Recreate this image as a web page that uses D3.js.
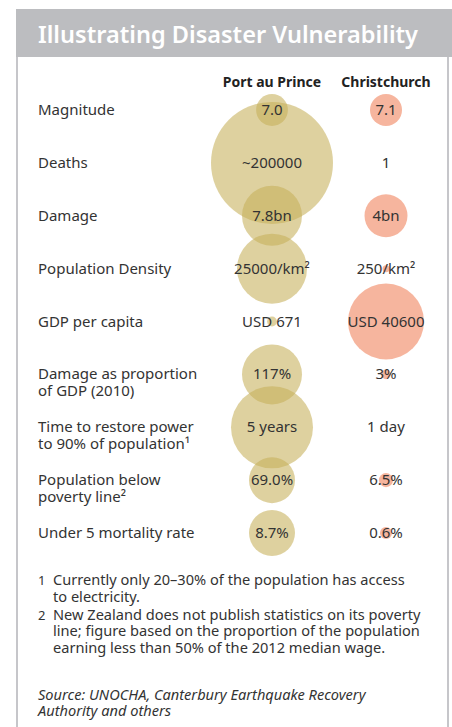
<!DOCTYPE html>
<html>
<head>
<meta charset="utf-8">
<script src="https://cdn.jsdelivr.net/npm/d3@7"></script>
<style>
  body { margin: 0; background: #fff; }
  svg text { font-family: "Noto Sans", "Open Sans", sans-serif; fill: #333; }
</style>
</head>
<body>
<svg width="452" height="727"></svg>
<script>
// Data
var metrics = ["Magnitude", "Deaths", "Damage", "Population Density", "GDP per capita",
    "Damage as proportion|of GDP (2010)", "Time to restore power|to 90% of population¹",
    "Population below|poverty line²", "Under 5 mortality rate"];
var cities = ["Port au Prince", "Christchurch"];
var portValues = [7.0, 200000, 7.8, 25000, 671, 117, 1826, 69.0, 8.7];
var chchValues = [7.1, 1, 4, 250, 40600, 3, 1, 6.5, 0.6];
var portLabels = ["7.0", "~200000", "7.8bn", "25000/km²", "USD 671", "117%", "5 years", "69.0%", "8.7%"];
var chchLabels = ["7.1", "1", "4bn", "250/km²", "USD 40600", "3%", "1 day", "6.5%", "0.6%"];
var footnotes = [
    ["1", "Currently only 20\u201330% of the population has access", "to electricity."],
    ["2", "New Zealand does not publish statistics on its poverty", "line; figure based on the proportion of the population", "earning less than 50% of the 2012 median wage."]
];
var sourceLines = ["Source: UNOCHA, Canterbury Earthquake Recovery", "Authority and others"];

var svg = d3.select("svg");

// largest bubble in each row (the infographic sizes each row on its own)
var rowMaxR = [16, 61, 30, 35, 38, 30, 41, 23, 23];
var colors = { "Port au Prince": "#c6b05a", "Christchurch": "#f5ad93" };
var opac = { "Port au Prince": 0.58, "Christchurch": 0.9 };

// frame + title bar
svg.append("rect").attr("x", 16).attr("y", 9).attr("width", 436).attr("height", 48).attr("fill", "#bcbdc0");
svg.append("line").attr("x1", 17).attr("x2", 17).attr("y1", 57).attr("y2", 727)
    .attr("stroke", "#c6c6ca").attr("stroke-width", 2);
svg.append("line").attr("x1", 448).attr("x2", 448).attr("y1", 57).attr("y2", 727)
    .attr("stroke", "#c6c6ca").attr("stroke-width", 2);
svg.append("text").attr("x", 38).attr("y", 43)
    .attr("textLength", 380).attr("lengthAdjust", "spacingAndGlyphs")
    .style("font-size", "24px").style("font-weight", "600").style("fill", "#fff")
    .text("Illustrating Disaster Vulnerability");

var x = d3.scalePoint().domain(cities).range([272, 386]);
var y = d3.scalePoint().domain(metrics).range([110, 533]);

// column headers
svg.selectAll(".colhead").data(cities).enter().append("text")
    .attr("class", "colhead")
    .attr("x", function(d) { return x(d); })
    .attr("y", 87)
    .attr("text-anchor", "middle")
    .style("font-size", "14px").style("font-weight", "bold").style("fill", "#222")
    .text(function(d) { return d; });

// bubbles
var rows = metrics.map(function(m, i) {
    var r = d3.scaleSqrt()
        .domain([0, Math.max(portValues[i], chchValues[i])])
        .range([0, rowMaxR[i]]);
    return { metric: m, cells: [
        { city: cities[0], v: portValues[i], label: portLabels[i], r: r },
        { city: cities[1], v: chchValues[i], label: chchLabels[i], r: r }
    ] };
});

var cells = [];
rows.forEach(function(row) {
    row.cells.forEach(function(c) { c.metric = row.metric; cells.push(c); });
});

svg.append("g").selectAll("circle")
    .data(cells)
    .enter().append("circle")
    .attr("cx", function(d) { return x(d.city); })
    .attr("cy", function(d) { return y(d.metric); })
    .attr("r", function(d) { return d.r(d.v); })
    .attr("fill", function(d) { return colors[d.city]; })
    .attr("fill-opacity", function(d) { return opac[d.city]; });

// value texts
svg.append("g").selectAll("text")
    .data(cells)
    .enter().append("text")
    .attr("x", function(d) { return x(d.city); })
    .attr("y", function(d) { return y(d.metric) + 5; })
    .attr("text-anchor", "middle")
    .style("font-size", "15px")
    .text(function(d) { return d.label; });

// row labels
var lab = svg.append("g").selectAll("text")
    .data(metrics)
    .enter().append("text")
    .attr("x", 38)
    .attr("y", function(d) { return y(d) + 5; })
    .style("font-size", "15px");
lab.selectAll("tspan")
    .data(function(d) { return d.split("|"); })
    .enter().append("tspan")
    .attr("x", 38)
    .attr("dy", function(d, i) { return i ? 17 : 0; })
    .text(function(d) { return d; });

// footnotes
var fy = 585;
footnotes.forEach(function(f) {
    svg.append("text").attr("x", 38).attr("y", fy).style("font-size", "13px").text(f[0]);
    f.slice(1).forEach(function(line, j) {
        svg.append("text").attr("x", 53).attr("y", fy + j * 16.5)
            .style("font-size", "14.6px").text(line);
    });
    fy += (f.length - 1) * 16.5 + 1.5;
});

svg.selectAll(".src").data(sourceLines).enter().append("text")
    .attr("class", "src")
    .attr("x", 38)
    .attr("y", function(d, i) { return 700 + i * 16; })
    .style("font-size", "14.6px").style("font-style", "italic")
    .text(function(d) { return d; });
</script>
</body>
</html>
